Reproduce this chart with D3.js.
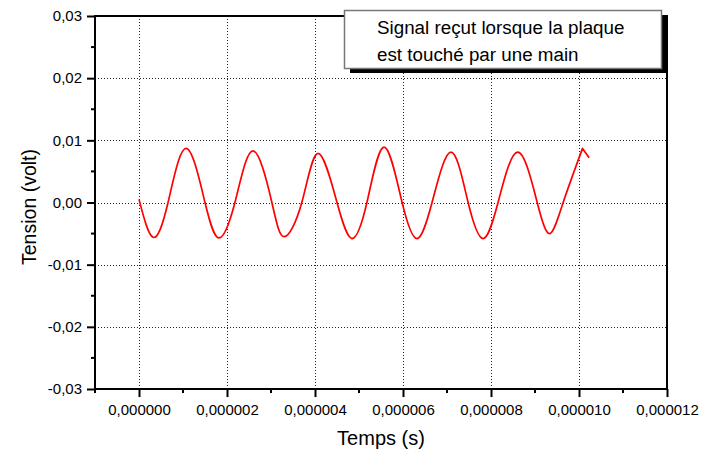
<!DOCTYPE html>
<html>
<head>
<meta charset="utf-8">
<script src="https://cdnjs.cloudflare.com/ajax/libs/d3/7.8.5/d3.min.js"></script>
<style>
	body { margin: 0; background: #fff; }
	svg { display: block; font-family: "Liberation Sans", Arial, sans-serif; }
</style>
</head>
<body>
<div id="chart"></div>
<script>
// signal (time in µs, tension in volt)
var timesUs = [0, 0.32, 0.66, 1.07, 1.50, 1.82, 2.18, 2.59, 3.02, 3.30, 3.70, 4.07, 4.50, 4.84, 5.18, 5.57, 5.98, 6.32, 6.66, 7.09, 7.48, 7.82, 8.16, 8.61, 9.05, 9.34, 9.64, 10.08, 10.23];
var volts = [0.0005, -0.0056, 0, 0.0087, 0, -0.0057, 0, 0.0083, 0, -0.0055, 0, 0.0079, 0, -0.0058, 0, 0.0089, 0, -0.0058, 0, 0.0081, 0, -0.0058, 0, 0.0081, 0, -0.0050, 0, 0.0087, 0.0072];

var xTicks = [0, 0.000002, 0.000004, 0.000006, 0.000008, 0.00001, 0.000012];
var xMinor = [-0.000001, 0.000001, 0.000003, 0.000005, 0.000007, 0.000009, 0.000011];
var yTicks = [-0.03, -0.02, -0.01, 0, 0.01, 0.02, 0.03];
var yMinor = [-0.025, -0.015, -0.005, 0.005, 0.015, 0.025];

var legendLines = ["Signal reçut lorsque la plaque", "est touché par une main"];

var W = 702, H = 455;
var margin = {top: 16, right: 35, bottom: 66, left: 95};
var width = W - margin.left - margin.right,
	height = H - margin.top - margin.bottom;

var svg = d3.select("#chart").append("svg")
	.attr("width", W)
	.attr("height", H);

var g = svg.append("g")
	.attr("transform", "translate(" + margin.left + "," + margin.top + ")");

var x = d3.scaleLinear().domain([-0.000001, 0.000012]).range([0, width]);
var y = d3.scaleLinear().domain([-0.03, 0.03]).range([height, 0]);

function comma(s) { return s.replace(".", ","); }

// dotted grid
g.append("g").selectAll("line")
	.data(xTicks.filter(function(d) { return d < 0.000012; }))
	.enter().append("line")
	.attr("x1", function(d) { return Math.round(x(d)) + 0.5; })
	.attr("x2", function(d) { return Math.round(x(d)) + 0.5; })
	.attr("y1", 0).attr("y2", height)
	.attr("stroke", "#222").attr("stroke-dasharray", "1,2");

g.append("g").selectAll("line")
	.data(yTicks.filter(function(d) { return d > -0.03 && d < 0.03; }))
	.enter().append("line")
	.attr("y1", function(d) { return Math.round(y(d)) + 0.5; })
	.attr("y2", function(d) { return Math.round(y(d)) + 0.5; })
	.attr("x1", 0).attr("x2", width)
	.attr("stroke", "#222").attr("stroke-dasharray", "1,2");

// signal: smooth spline through the readings, last noisy drop as a straight piece
var pts = timesUs.map(function(t, i) { return [t * 1e-6, volts[i]]; });
var lineGen = d3.line()
	.x(function(d) { return x(d[0]); })
	.y(function(d) { return y(d[1]); })
	.curve(d3.curveNatural);
var last = pts[pts.length - 1];
g.append("path")
	.attr("fill", "none")
	.attr("stroke", "#ff0000")
	.attr("stroke-width", 1.7)
	.attr("stroke-linejoin", "round")
	.attr("d", lineGen(pts.slice(0, -1)) + "L" + x(last[0]) + "," + y(last[1]));

// axes
var xAxis = g.append("g")
	.attr("transform", "translate(0," + height + ")")
	.call(d3.axisBottom(x).tickValues(xTicks).tickSize(8).tickPadding(7)
		.tickFormat(function(d) { return comma(d.toFixed(6)); }));
xAxis.append("g").selectAll("line")
	.data(xMinor).enter().append("line")
	.attr("x1", function(d) { return x(d); }).attr("x2", function(d) { return x(d); })
	.attr("y1", 0).attr("y2", 4)
	.attr("stroke", "#000").attr("stroke-width", 2);

var yAxis = g.append("g")
	.call(d3.axisLeft(y).tickValues(yTicks).tickSize(8).tickPadding(5)
		.tickFormat(function(d) { return comma(d3.format(".2f")(d)).replace("−", "-"); }));
yAxis.append("g").selectAll("line")
	.data(yMinor).enter().append("line")
	.attr("y1", function(d) { return y(d); }).attr("y2", function(d) { return y(d); })
	.attr("x1", 0).attr("x2", -4)
	.attr("stroke", "#000").attr("stroke-width", 2);

svg.selectAll(".domain").remove();
svg.selectAll(".tick line").attr("stroke", "#000").attr("stroke-width", 2);
svg.selectAll(".tick text").attr("fill", "#000").style("font-size", "15px");

// frame
g.append("rect")
	.attr("width", width).attr("height", height)
	.attr("fill", "none").attr("stroke", "#000").attr("stroke-width", 2);

// legend box with drop shadow
var lg = svg.append("g");
lg.append("rect")
	.attr("x", 350).attr("y", 15).attr("width", 318).attr("height", 58)
	.attr("fill", "#000");
lg.append("rect")
	.attr("x", 344.5).attr("y", 10.5).attr("width", 317).attr("height", 58)
	.attr("fill", "#fff").attr("stroke", "#777").attr("stroke-width", 1.5);
lg.selectAll("text")
	.data(legendLines).enter().append("text")
	.attr("x", 377)
	.attr("y", function(d, i) { return 34 + i * 27; })
	.style("font-size", "18.8px")
	.text(function(d) { return d; });

// axis titles
svg.append("text")
	.attr("x", margin.left + x(0.0000055)).attr("y", 445)
	.attr("text-anchor", "middle")
	.style("font-size", "20px")
	.text("Temps (s)");

svg.append("text")
	.attr("transform", "translate(36," + 207 + ") rotate(-90)")
	.attr("text-anchor", "middle")
	.style("font-size", "19.5px")
	.text("Tension (volt)");
</script>
</body>
</html>
